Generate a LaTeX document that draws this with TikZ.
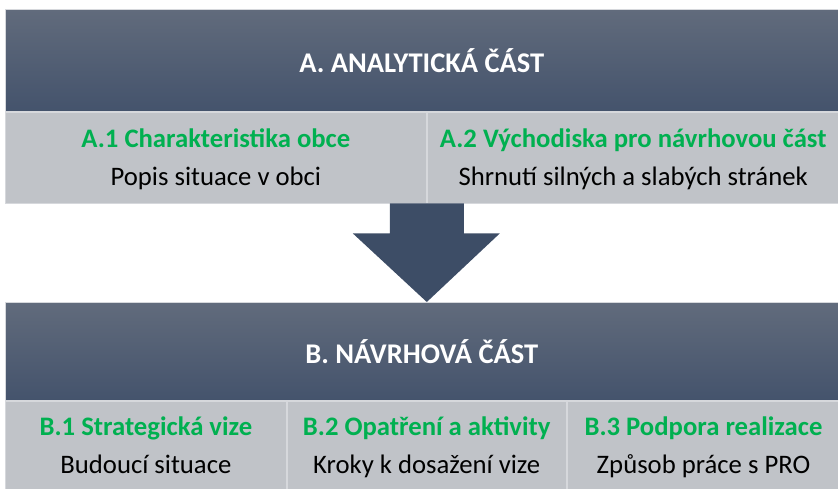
\documentclass[tikz,border=0pt]{standalone}
\usepackage{fontspec}
\setmainfont{Carlito}
\usetikzlibrary{positioning,calc}

\definecolor{headtop}{RGB}{97,107,124}
\definecolor{headbot}{RGB}{68,83,108}
\definecolor{cellgray}{RGB}{192,195,200}
\definecolor{cellline}{RGB}{214,216,220}
\definecolor{titlegreen}{RGB}{0,176,80}
\definecolor{arrowblue}{RGB}{61,77,102}

\newcommand{\celltext}[2]{{\color{titlegreen}\bfseries\vphantom{Áp}#1}\\[6pt]\vphantom{Áp}#2}

\begin{document}
\begin{tikzpicture}[x=1pt,y=-1pt,
  header/.style={anchor=north west,inner sep=0pt,top color=headtop,bottom color=headbot,
    draw=cellline,line width=0.6pt,text=white,font=\bfseries\fontsize{28.5}{32}\selectfont},
  cell/.style={anchor=north west,inner sep=0pt,fill=cellgray,draw=cellline,line width=0.8pt,
    align=center,font=\fontsize{26.7}{32}\selectfont}]
  \useasboundingbox (0,0) rectangle (838,488);

  % part A
  \node[header,minimum width=833pt,minimum height=102pt] (hdA) at (5,9) {A. ANALYTICKÁ ČÁST};
  \node[cell,minimum width=421pt,minimum height=91pt] (a1) at (hdA.south west)
    {\celltext{A.1 Charakteristika obce}{Popis situace v obci}};
  \node[cell,minimum width=412pt,minimum height=91pt] (a2) at (a1.north east)
    {\celltext{A.2 Východiska pro návrhovou část}{Shrnutí silných a slabých stránek}};

  % part B
  \node[header,minimum width=833pt,minimum height=98pt] (hdB) at (5,302) {B. NÁVRHOVÁ ČÁST};
  \node[cell,minimum width=281pt,minimum height=88pt] (b1) at (hdB.south west)
    {\celltext{B.1 Strategická vize}{Budoucí situace}};
  \node[cell,minimum width=279pt,minimum height=88pt] (b2) at (b1.north east)
    {\celltext{B.2 Opatření a aktivity}{Kroky k dosažení vize}};
  \node[cell,minimum width=273pt,minimum height=88pt] (b3) at (b2.north east)
    {\celltext{B.3 Podpora realizace}{Způsob práce s PRO}};

  % arrow between parts
  \coordinate (tip) at (a1.south east |- hdB.north);
  \fill[arrowblue] ($(a1.south east)+(-37,0)$) -- ($(a1.south east)+(37,0)$)
    -- ($(a1.south east)+(37,30)$) -- ($(a1.south east)+(73,30)$) -- (tip)
    -- ($(a1.south east)+(-74,30)$) -- ($(a1.south east)+(-37,30)$) -- cycle;
\end{tikzpicture}
\end{document}
